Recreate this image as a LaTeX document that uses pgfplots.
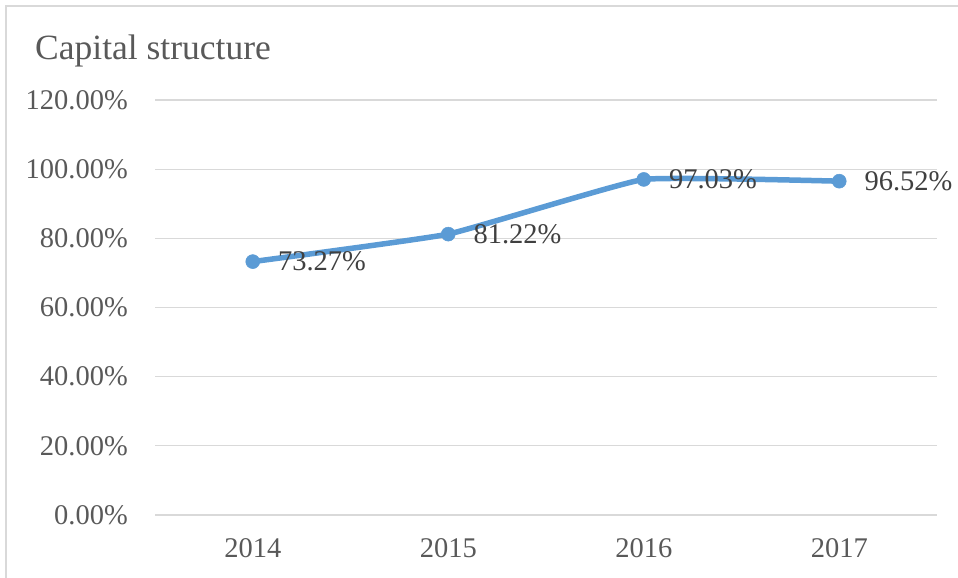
\documentclass[border=0pt]{standalone}
\usepackage{fontspec}
\setmainfont{Liberation Serif}
\usepackage{pgfplots}
\pgfplotsset{compat=1.18}

\definecolor{seriesblue}{HTML}{5B9BD5}
\definecolor{gridgray}{HTML}{D9D9D9}
\definecolor{labelgray}{HTML}{595959}
\definecolor{valuegray}{HTML}{404040}

\begin{document}
\begin{tikzpicture}[x=1pt,y=1pt]
  \path[use as bounding box] (0,0) rectangle (958,578);
  % chart frame
  \draw[gridgray, line width=2pt] (6,0) -- (6,572) -- (958,572);
  % title
  \node[anchor=base west, inner sep=0pt, text=labelgray,
        font=\fontsize{35.5}{40}\selectfont] at (35,518) {Capital structure};

  \begin{axis}[
    at={(155pt,63pt)}, anchor=south west,
    scale only axis, width=782pt, height=415pt,
    xmin=-0.5, xmax=3.5, ymin=0, ymax=120,
    xtick={0,1,2,3}, xticklabels={2014,2015,2016,2017},
    ytick={0,20,40,60,80,100,120},
    ymajorgrids, grid style={gridgray, line width=1.3pt},
    axis line style={draw=none},
    major tick length=0pt,
    clip=false,
    /pgf/number format/assume math mode=true,
    yticklabel={\pgfmathprintnumber[fixed,fixed zerofill,precision=2]{\tick}\%},
    yticklabel style={anchor=east, inner sep=0pt, xshift=-27pt,
        text=labelgray, font=\fontsize{28.5}{30}\selectfont},
    xticklabel style={anchor=north, inner sep=0pt, yshift=-23pt,
        text=labelgray, font=\fontsize{28.5}{30}\selectfont},
    nodes near coords={\pgfmathprintnumber[fixed,fixed zerofill,precision=2]{\pgfplotspointmeta}\%},
    nodes near coords style={anchor=west, inner sep=0pt, xshift=25pt,
        text=valuegray, font=\fontsize{28.5}{30}\selectfont},
  ]
    \addplot[seriesblue, line width=5.5pt, smooth, tension=0.2,
             mark=*, mark size=7pt,
             mark options={fill=seriesblue, draw=seriesblue, line width=0.5pt}]
      coordinates {(0,73.27) (1,81.22) (2,97.03) (3,96.52)};
  \end{axis}
\end{tikzpicture}
\end{document}
